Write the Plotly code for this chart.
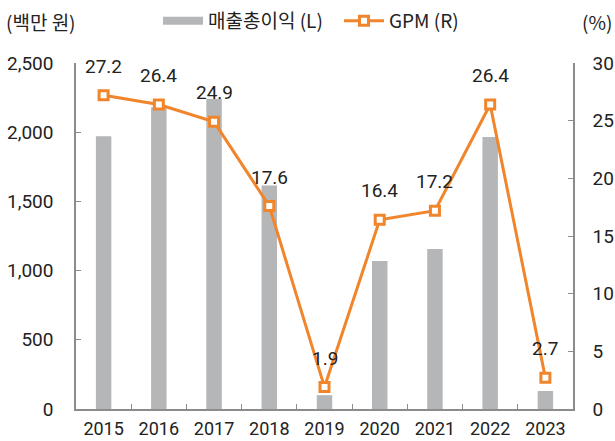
import plotly.graph_objects as go

years = ["2015", "2016", "2017", "2018", "2019", "2020", "2021", "2022", "2023"]
gross_profit = [1970, 2180, 2240, 1615, 100, 1070, 1156, 1965, 130]
gpm = [27.2, 26.4, 24.9, 17.6, 1.9, 16.4, 17.2, 26.4, 2.7]

FONT = "Roboto, Noto Sans CJK KR, sans-serif"
KFONT = "Noto Sans CJK KR, sans-serif"
ORANGE = "#f0852b"
GRAY = "#b5b6b8"
AXIS = "#8c8c8c"
TXT = "#222222"

fig = go.Figure()
fig.add_trace(go.Bar(x=years, y=gross_profit, name="매출총이익 (L)", legendgroup="gp",
                     showlegend=False,
                     marker=dict(color=GRAY, line=dict(width=0)), width=0.28))
# legend swatch for bars (wide grey rectangle as in the reference)
fig.add_trace(go.Scatter(x=[None], y=[None], name="매출총이익 (L)", legendgroup="gp",
                         mode="lines", line=dict(color=GRAY, width=8), hoverinfo="skip"))
fig.add_trace(go.Scatter(x=years, y=gpm, name="GPM (R)", yaxis="y2", mode="lines+markers",
                         line=dict(color=ORANGE, width=3),
                         marker=dict(symbol="square", size=9, color="white",
                                     line=dict(color=ORANGE, width=3))))

for i, v in enumerate(gpm):
    fig.add_annotation(x=i, y=v, xref="x", yref="y2", text=f"{v:.1f}", showarrow=False,
                       yshift=29, font=dict(family=FONT, size=19, color=TXT))

fig.add_annotation(x=(4 - 76) / 497, y=1 + (63 - 21) / 346, xref="paper", yref="paper",
                   text="(백만 원)", showarrow=False, xanchor="left", yanchor="middle",
                   font=dict(family=KFONT, size=19, color=TXT))
fig.add_annotation(x=(614 - 76) / 497, y=1 + (63 - 21) / 346, xref="paper", yref="paper",
                   text="(%)", showarrow=False, xanchor="right", yanchor="middle",
                   font=dict(family=KFONT, size=19, color=TXT))

fig.update_layout(
    width=615, height=441,
    margin=dict(l=76, r=42, t=63, b=32, autoexpand=False),
    paper_bgcolor="white", plot_bgcolor="white",
    font=dict(family=FONT, size=19, color=TXT),
    showlegend=True,
    legend=dict(orientation="h", x=(158 - 76) / 497, xanchor="left",
                y=1 + (63 - 21) / 346, yanchor="middle",
                font=dict(family=KFONT, size=19, color=TXT), itemwidth=40,
                entrywidth=126, entrywidthmode="pixels",
                tracegroupgap=0, bgcolor="rgba(0,0,0,0)"),
    xaxis=dict(type="category", range=[-0.5, 8.5], showline=True, linecolor=AXIS, linewidth=1.5,
               ticks="inside", tickson="boundaries", ticklen=5, tickcolor=AXIS,
               showgrid=False, tickfont=dict(size=18), automargin=False, ticklabelstandoff=3),
    yaxis=dict(range=[0, 2500], dtick=500, tickformat=",", showline=True, linecolor=AXIS,
               linewidth=1.5, ticks="inside", ticklen=5, tickcolor=AXIS, showgrid=False,
               zeroline=False, tickfont=dict(size=19), ticklabelstandoff=17, automargin=False),
    yaxis2=dict(range=[0, 30], dtick=5, overlaying="y", side="right", showline=True,
                linecolor=AXIS, linewidth=1.5, ticks="inside", ticklen=5, tickcolor=AXIS,
                showgrid=False, zeroline=False, tickfont=dict(size=19), ticklabelstandoff=14,
                automargin=False),
)

fig.write_html("out.html", config={"displayModeBar": False},
               post_script="document.body.style.margin='0';")
